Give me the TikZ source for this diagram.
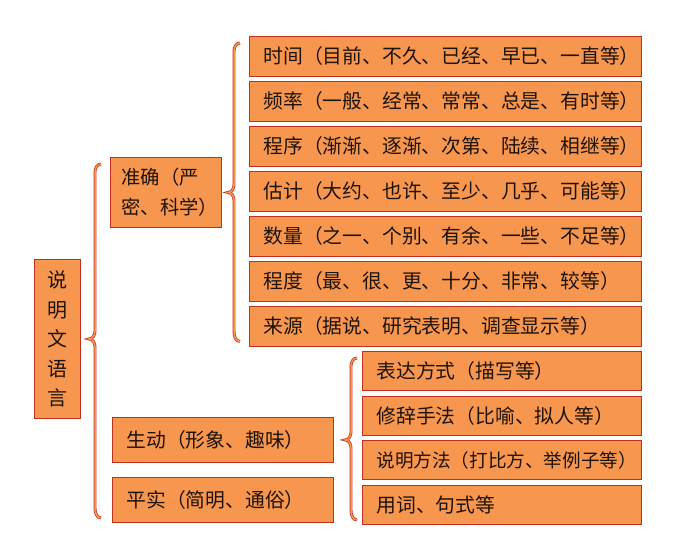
\documentclass[tikz,border=0pt]{standalone}
\usepackage{fontspec}
\newfontfamily\cjk{Noto Sans CJK SC}
\usetikzlibrary{calc}
\definecolor{boxfill}{RGB}{247,150,78}
\definecolor{boxline}{RGB}{192,48,30}

% brace from parent #1 to the group #2..#3, drawn at x=#4
\newcommand\groupbrace[4]{%
\draw[brace] let \p1=(#2.north), \p2=(#3.south), \p3=(#1.east) in
(#4pt+6pt, \y1-7pt) to[out=180,in=90] (#4pt, \y1-15pt)
-- (#4pt, \y3+8pt) to[out=-90,in=0] (#4pt-6pt, \y3)
to[out=0,in=90] (#4pt, \y3-8pt)
-- (#4pt, \y2+15pt) to[out=-90,in=180] (#4pt+6pt, \y2+5pt);
}

\begin{document}
\begin{tikzpicture}[x=1pt, y=-1pt,
	leaf/.style={draw=boxline, fill=boxfill, line width=0.9pt,
		anchor=north west, inner xsep=14pt, inner ysep=0pt,
		align=left, text=black!85!brown,
		font=\cjk\fontsize{19.8}{23}\selectfont},
	brace/.style={draw=boxline, line width=0.7pt,
		double=boxfill, double distance=1.5pt}
]
\useasboundingbox (0,0) rectangle (684,543);

\node[leaf, inner xsep=0pt, minimum width=46pt, minimum height=159pt,
	align=center, font=\cjk\fontsize{20}{29.5}\selectfont]
	(root) at (34,259) {说\\明\\文\\语\\言};

\node[leaf, inner xsep=11pt, text width=89pt, minimum height=70pt,
	font=\cjk\fontsize{19.3}{30}\selectfont]
	(zhun) at (110,157) {准确（严\\密、科学）};
\node[leaf, text width=193pt, minimum height=45pt] (sheng) at (112,417)
	{生动（形象、趣味）};
\node[leaf, text width=193pt, minimum height=45pt] (ping) at (112,477)
	{平实（简明、通俗）};

\foreach \i/\txt in {1/{时间（目前、不久、已经、早已、一直等）},
	2/{频率（一般、经常、常常、总是、有时等）},
	3/{程序（渐渐、逐渐、次第、陆续、相继等）},
	4/{估计（大约、也许、至少、几乎、可能等）},
	5/{数量（之一、个别、有余、一些、不足等）},
	6/{程度（最、很、更、十分、非常、较等）},
	7/{来源（据说、研究表明、调查显示等）}}{
	\node[leaf, text width=364pt, minimum height=39.5pt]
		(t\i) at (249, {36+(\i-1)*45}) {\txt};
}

\foreach \i/\txt in {1/{表达方式（描写等）},
	2/{修辞手法（比喻、拟人等）},
	3/{\fontsize{18.6}{23}\selectfont 说明方法（打比方、举例子等）},
	4/{用词、句式等}}{
	\node[leaf, text width=251pt, minimum height=39pt]
		(s\i) at (362, {351+(\i-1)*44.7}) {\txt};
}

\groupbrace{root}{zhun}{ping}{95}
\groupbrace{zhun}{t1}{t7}{234}
\groupbrace{sheng}{s1}{s4}{351}
\end{tikzpicture}
\end{document}
